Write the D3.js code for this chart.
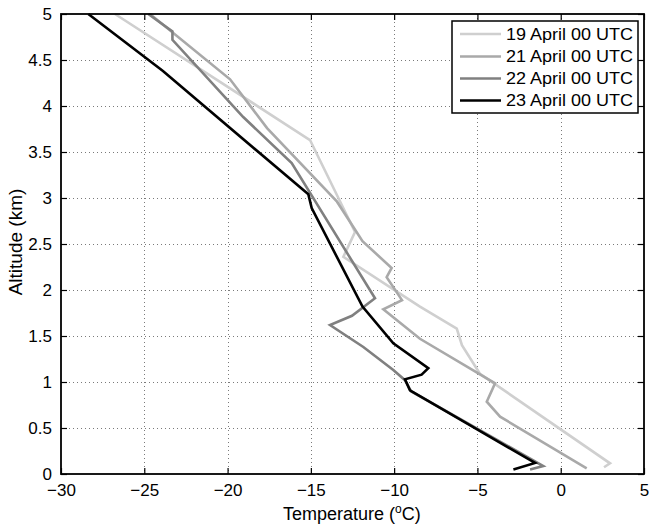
<!DOCTYPE html>
<html>
<head>
<meta charset="utf-8">
<script src="https://cdn.jsdelivr.net/npm/d3@7/dist/d3.min.js"></script>
<style>
  html, body { margin: 0; padding: 0; background: #fff; }
  svg { display: block; font-family: "Liberation Sans", Arial, Helvetica, sans-serif; }
</style>
</head>
<body>
<svg id="chart" width="649" height="525"></svg>
<script>
// ---- data ----
const seriesNames = ["19 April 00 UTC", "21 April 00 UTC", "22 April 00 UTC", "23 April 00 UTC"];
const seriesColors = ["#cfcfcf", "#a9a9a9", "#808080", "#000000"];

const temp19 = [-26.76, -15.05, -12.35, -13.05, -8.45, -6.24, -5.93, -4.85, 2.96, 2.6];
const alt19  = [5.0, 3.63, 2.63, 2.36, 1.82, 1.58, 1.40, 1.09, 0.116, 0.073];

const temp21 = [-24.66, -19.85, -17.63, -13.43, -11.9, -10.15, -10.45, -9.53, -10.65, -8.45, -3.94, -4.44, -3.64, 1.56];
const alt21  = [5.0, 4.29, 3.76, 2.96, 2.53, 2.24, 2.14, 1.89, 1.79, 1.47, 0.986, 0.786, 0.623, 0.062];

const temp22 = [-24.76, -23.31, -23.31, -19.06, -16.15, -11.15, -12.53, -13.85, -11.85, -10.05, -9.35, -8.99, -1.05, -1.84];
const alt22  = [5.0, 4.81, 4.72, 3.88, 3.38, 1.91, 1.72, 1.62, 1.38, 1.13, 1.02, 0.90, 0.087, 0.05];

const temp23 = [-28.36, -23.88, -15.15, -14.95, -11.9, -10.05, -7.95, -8.35, -9.35, -9.05, -1.54, -2.84];
const alt23  = [5.0, 4.38, 3.04, 2.89, 1.82, 1.42, 1.15, 1.08, 1.03, 0.91, 0.12, 0.05];

const xTicks = [-30, -25, -20, -15, -10, -5, 0, 5];
const xTickLabels = ["\u221230", "\u221225", "\u221220", "\u221215", "\u221210", "\u22125", "0", "5"];
const yTicks = [0, 0.5, 1, 1.5, 2, 2.5, 3, 3.5, 4, 4.5, 5];
const yTickLabels = ["0", "0.5", "1", "1.5", "2", "2.5", "3", "3.5", "4", "4.5", "5"];

const seriesTemps = [temp19, temp21, temp22, temp23];
const seriesAlts = [alt19, alt21, alt22, alt23];

// ---- layout ----
const L = 61, R = 644, T = 14, B = 474;
const svg = d3.select("#chart");
const x = d3.scaleLinear().domain([-30, 5]).range([L, R]);
const y = d3.scaleLinear().domain([0, 5]).range([B, T]);

// grid
const grid = svg.append("g").attr("stroke", "#7a7a7a").attr("stroke-width", 1).attr("stroke-dasharray", "1,3");
grid.selectAll("line.gx").data(xTicks.slice(1, -1)).enter().append("line")
  .attr("x1", d => Math.round(x(d)) + 0.5).attr("x2", d => Math.round(x(d)) + 0.5)
  .attr("y1", T).attr("y2", B);
grid.selectAll("line.gy").data(yTicks.slice(1, -1)).enter().append("line")
  .attr("y1", d => Math.round(y(d)) + 0.5).attr("y2", d => Math.round(y(d)) + 0.5)
  .attr("x1", L).attr("x2", R);

// axes with inward ticks (all four sides)
const tickLen = 6;
const axB = svg.append("g").attr("transform", `translate(0,${B})`)
  .call(d3.axisBottom(x).tickValues(xTicks).tickFormat((d, i) => xTickLabels[i]).tickSizeInner(-tickLen).tickSizeOuter(0).tickPadding(12));
const axT = svg.append("g").attr("transform", `translate(0,${T})`)
  .call(d3.axisTop(x).tickValues(xTicks).tickFormat("").tickSizeInner(-tickLen).tickSizeOuter(0));
const axL = svg.append("g").attr("transform", `translate(${L},0)`)
  .call(d3.axisLeft(y).tickValues(yTicks).tickFormat((d, i) => yTickLabels[i]).tickSizeInner(-tickLen).tickSizeOuter(0).tickPadding(9));
const axR = svg.append("g").attr("transform", `translate(${R},0)`)
  .call(d3.axisRight(y).tickValues(yTicks).tickFormat("").tickSizeInner(-tickLen).tickSizeOuter(0));
[axB, axT, axL, axR].forEach(a => {
  a.select(".domain").remove();
  a.selectAll(".tick line").attr("stroke", "#000").attr("stroke-width", 1.2);
  a.selectAll(".tick text").attr("fill", "#000").attr("font-size", 17).attr("font-family", null);
});
axB.selectAll(".tick text").attr("dy", "0.6em");

// lines
const line = d3.line().x(d => x(d[0])).y(d => y(d[1]));
seriesTemps.forEach((temps, i) => {
  const pts = temps.map((t, j) => [t, seriesAlts[i][j]]);
  svg.append("path").datum(pts).attr("d", line)
    .attr("fill", "none").attr("stroke", seriesColors[i]).attr("stroke-width", 2.6)
    .attr("stroke-linejoin", "miter").attr("stroke-miterlimit", 3);
});

// box
svg.append("rect").attr("x", L).attr("y", T).attr("width", R - L).attr("height", B - T)
  .attr("fill", "none").attr("stroke", "#000").attr("stroke-width", 1.8);

// legend
const lg = svg.append("g");
lg.append("rect").attr("x", 452).attr("y", 21).attr("width", 186).attr("height", 92)
  .attr("fill", "#fff").attr("stroke", "#000").attr("stroke-width", 1.5);
const rowY = [34, 56.5, 78.5, 100.5];
seriesNames.forEach((name, i) => {
  lg.append("line").attr("x1", 460).attr("x2", 501).attr("y1", rowY[i]).attr("y2", rowY[i])
    .attr("stroke", seriesColors[i]).attr("stroke-width", 2.6);
  lg.append("text").attr("x", 506).attr("y", rowY[i]).attr("dy", "0.36em")
    .attr("font-size", 16.5).attr("fill", "#000").attr("textLength", 127).attr("lengthAdjust", "spacingAndGlyphs").text(name);
});

// axis labels
const xl = svg.append("text").attr("x", 283).attr("y", 520).attr("font-size", 18).attr("fill", "#000");
xl.append("tspan").text("Temperature (");
xl.append("tspan").attr("dy", -7).attr("font-size", 12).text("o");
xl.append("tspan").attr("dy", 7).text("C)");

svg.append("text").attr("transform", `translate(22,${(T + B) / 2 - 2}) rotate(-90)`)
  .attr("text-anchor", "middle").attr("font-size", 19).attr("fill", "#000").text("Altitude (km)");
</script>
</body>
</html>
